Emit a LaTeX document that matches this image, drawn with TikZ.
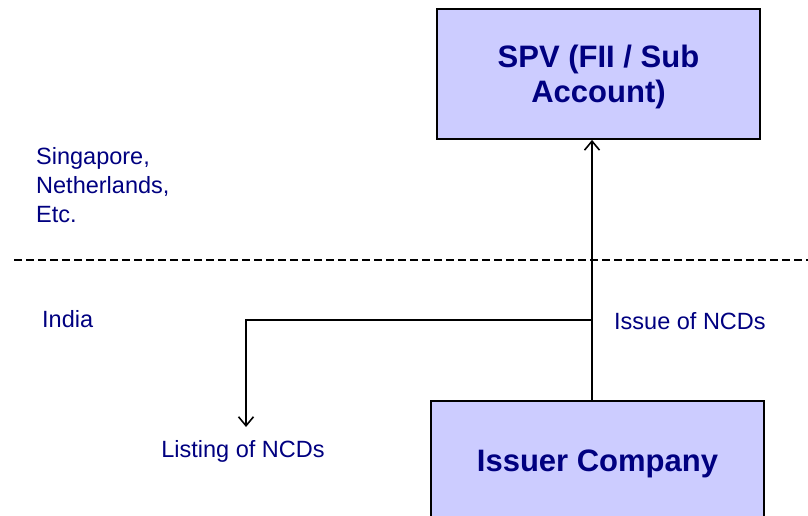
\documentclass[tikz,border=0pt]{standalone}
\usepackage{fontspec}
\setmainfont{Liberation Sans}
\usetikzlibrary{arrows.meta}
\definecolor{boxfill}{HTML}{CCCCFF}
\definecolor{navytext}{HTML}{000080}
\tikzset{
  entity/.style={draw=black, line width=1.8pt, fill=boxfill, text=navytext,
    font=\fontsize{31}{35}\selectfont\bfseries, align=center, inner sep=0pt},
  note/.style={text=navytext, font=\fontsize{23.5}{29}\selectfont, inner sep=0pt, align=left},
  flow/.style={line width=2pt, -{Straight Barb[length=9pt,width=15pt,line width=1.6pt]}},
  border/.style={line width=1.4pt, dash pattern=on 8pt off 4pt}
}
\begin{document}
\begin{tikzpicture}[x=1pt, y=-1pt]
  \useasboundingbox (0,0) rectangle (808,516);

  % boxes (the strut lowers the two-line title a little inside its box)
  \node[entity, minimum width=323pt, minimum height=130pt] (spv) at (598.5,74)
    {\rule{0pt}{29pt}SPV (FII / Sub\\Account)};
  \node[entity, minimum width=333pt, minimum height=126pt] (issuer) at (597.5,464)
    {Issuer Company};

  % jurisdiction divider
  \coordinate (divL) at (14,260);
  \coordinate (divR) at (808,260);
  \draw[border] (divL) -- (divR);

  % region labels
  \node[note, anchor=base west] (abroad) at (36,222) {Singapore,\\Netherlands,\\Etc.};
  \node[note, anchor=base west] (india) at (42,327) {India};

  % flow labels
  \node[note, anchor=base west] (issue) at (614,329) {Issue of NCDs};
  \node[note, anchor=base] (listing) at (243,457) {Listing of NCDs};

  % connectors
  \coordinate (trunk) at (592,0);
  \coordinate (branch) at (trunk |- 0,320);
  \coordinate (listtip) at (246,427);
  \draw[flow] (issuer.north -| trunk) -- (spv.south -| trunk);
  \draw[flow] (branch) -- (listtip |- branch) -- (listtip);
\end{tikzpicture}
\end{document}
